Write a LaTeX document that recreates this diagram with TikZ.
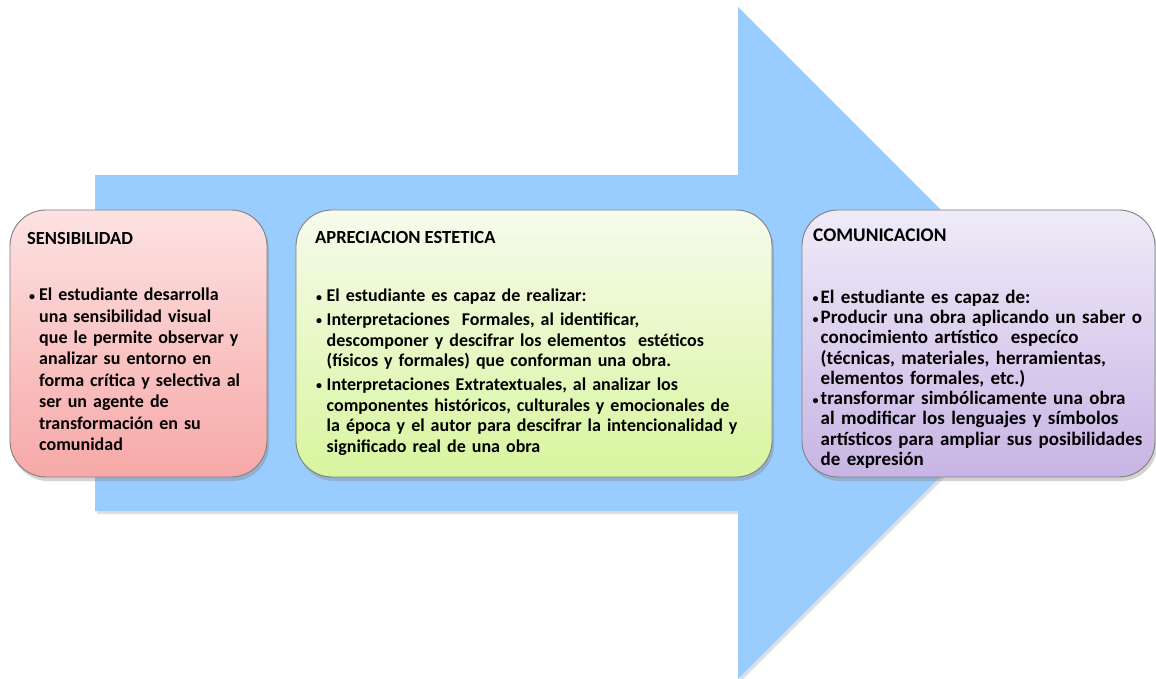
\documentclass[tikz,border=0pt]{standalone}
\usepackage{fontspec}
\setmainfont{Carlito}
\usetikzlibrary{positioning,shadows}

\definecolor{arrowblue}{RGB}{153,204,255}
\definecolor{boxline}{RGB}{128,128,128}
\definecolor{pinktop}{RGB}{253,226,226}
\definecolor{pinkbot}{RGB}{247,168,168}
\definecolor{greentop}{RGB}{246,251,236}
\definecolor{greenbot}{RGB}{216,245,158}
\definecolor{liltop}{RGB}{239,235,248}
\definecolor{lilbot}{RGB}{200,180,228}

\newlength{\bulhang}
\newcommand{\punto}[1]{\par\noindent\hangindent=\bulhang\hangafter=1%
  \makebox[\bulhang][l]{\fontsize{12}{12}\selectfont\raisebox{0.5pt}{\textbullet}}#1\par}

\tikzset{
  stage/.style={draw=boxline, line width=0.9pt, rounded corners=36pt,
    minimum height=267pt, inner sep=0pt,
    drop shadow={opacity=0.35, shadow xshift=2pt, shadow yshift=-4pt}},
  stagehead/.style={anchor=base west, inner sep=0pt,
    font=\bfseries\fontsize{18.5}{20}\selectfont},
  stagebody/.style={anchor=north west, inner sep=0pt}
}

\begin{document}
\begin{tikzpicture}[x=1pt,y=1pt]
  \useasboundingbox (0,0) rectangle (1156,-679);

  % big arrow behind the three stages
  \fill[arrowblue, drop shadow={opacity=0.25, shadow xshift=2pt, shadow yshift=-3pt}]
    (95,-175) -- (738,-175) -- (738,-7) -- (1074,-343)
    -- (738,-679) -- (738,-511) -- (95,-511) -- cycle;

  % stages
  \node[stage, top color=pinktop, bottom color=pinkbot, minimum width=257pt]
    (sens) at (138.5,-343.5) {};
  \node[stage, top color=greentop, bottom color=greenbot, minimum width=476pt]
    (apre) at (534,-343.5) {};
  \node[stage, top color=liltop, bottom color=lilbot, minimum width=353pt]
    (comu) at (978.5,-343.5) {};

  % headings
  \node[stagehead] (sensT) at (27,-244) {SENSIBILIDAD};
  \node[stagehead] (apreT) at (315,-243) {APRECIACION ESTETICA};
  \node[stagehead, font=\bfseries\fontsize{19.3}{20}\selectfont] (comuT) at (813,-241) {COMUNICACION};

  % texts
  \node[stagebody, text width=245pt, font=\bfseries\fontsize{18}{21.4}\selectfont]
    (sensB) at (29,-279) {\setlength{\bulhang}{10pt}%
    \punto{El estudiante desarrolla\newline una sensibilidad visual\newline que le permite observar y\newline
      analizar su entorno en\newline forma crítica y selectiva al\newline ser un agente de\newline
      transformación en su\newline comunidad}};
  \node[stagebody, text width=450pt, font=\bfseries\fontsize{18}{20.8}\selectfont]
    (apreB) at (316,-278) {\setlength{\bulhang}{10.5pt}\setlength{\parskip}{2.7pt}%
    \punto{El estudiante es capaz de realizar:}
    \punto{Interpretaciones\ \ Formales, al identificar,\newline descomponer y descifrar los elementos\ \ estéticos\newline
      (físicos y formales) que conforman una obra.}
    \punto{Interpretaciones Extratextuales, al analizar los\newline componentes históricos, culturales y emocionales de\newline
      la época y el autor para descifrar la intencionalidad y\newline significado real de una obra}};
  \node[stagebody, text width=340pt, font=\bfseries\fontsize{19}{20.25}\selectfont]
    (comuB) at (812.5,-283) {\setlength{\bulhang}{8pt}%
    \punto{El estudiante es capaz de:}
    \punto{Producir una obra aplicando un saber o\newline conocimiento artístico\ \ especíco\newline
      (técnicas, materiales, herramientas,\newline elementos formales, etc.)}
    \punto{transformar simbólicamente una obra\newline al modificar los lenguajes y símbolos\newline
      artísticos para ampliar sus posibilidades\newline de expresión}};
\end{tikzpicture}
\end{document}
